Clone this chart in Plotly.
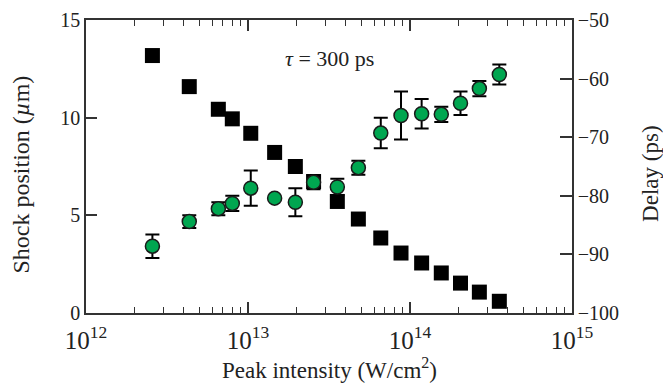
import plotly.graph_objects as go

intensity = [2.57e12, 4.34e12, 6.56e12, 8.0e12, 1.04e13, 1.46e13, 1.96e13, 2.54e13,
             3.56e13, 4.80e13, 6.6e13, 8.8e13, 1.18e14, 1.56e14, 2.05e14, 2.68e14, 3.56e14]
shock_position = [13.18, 11.59, 10.43, 9.94, 9.20, 8.22, 7.50, 6.73, 5.71, 4.81,
                  3.84, 3.07, 2.56, 2.05, 1.53, 1.07, 0.60]
delay = [-88.6, -84.4, -82.2, -81.3, -78.7, -80.4, -81.1, -77.7, -78.5, -75.2,
         -69.3, -66.3, -66.0, -66.1, -64.2, -61.7, -59.3]
delay_err = [2.0, 1.1, 1.1, 1.3, 3.0, 0.0, 2.4, 1.2, 1.4, 1.2,
             2.6, 4.1, 2.5, 1.3, 2.0, 1.3, 1.7]

FONT = "Liberation Serif"
AX = "#333333"
TXT = "#222222"

fig = go.Figure()
fig.add_trace(go.Scatter(
    x=intensity, y=shock_position, mode="markers", yaxis="y",
    marker=dict(symbol="square", size=15, color="black", line=dict(width=0)),
    showlegend=False))
fig.add_trace(go.Scatter(
    x=intensity, y=delay, mode="markers", yaxis="y2",
    marker=dict(symbol="circle", size=14, color="#00a650",
                line=dict(width=1.5, color="#1a1a1a")),
    error_y=dict(type="data", array=delay_err, visible=True, color="black",
                 thickness=2, width=7),
    showlegend=False))

ann = dict(xref="paper", yref="paper", showarrow=False, xanchor="center", yanchor="middle")
fig.add_annotation(x=0.501, y=0.867, text="<i>τ</i> = 300 ps",
                   font=dict(family=FONT, size=22, color=TXT), **ann)
fig.add_annotation(x=0.502, y=-0.19, text="Peak intensity (W/cm<sup>2</sup>)",
                   font=dict(family=FONT, size=23, color=TXT), **ann)
fig.add_annotation(x=-0.133, y=0.474, textangle=-90, text="Shock position (<i>µ</i>m)",
                   font=dict(family=FONT, size=24, color=TXT), **ann)
fig.add_annotation(x=1.160, y=0.474, textangle=-90, text="Delay (ps)",
                   font=dict(family=FONT, size=23, color=TXT), **ann)

fig.update_layout(
    width=663, height=388,
    margin=dict(l=86, r=91, t=20, b=75),
    paper_bgcolor="white", plot_bgcolor="white",
    font=dict(family=FONT, size=20, color=TXT),
    xaxis=dict(type="log", range=[12, 15], dtick=1, exponentformat="power",
               automargin=False, ticklabelstandoff=5,
               showline=True, linecolor=AX, linewidth=1.5, mirror="ticks",
               ticks="inside", ticklen=11, tickwidth=1.5, tickcolor=AX,
               minor=dict(ticks="inside", ticklen=6, tickwidth=1.2, tickcolor=AX, dtick="D1"),
               showgrid=False, zeroline=False),
    yaxis=dict(range=[0, 15], tickvals=[0, 5, 10, 15], automargin=False,
               showline=True, linecolor=AX, linewidth=1.5,
               ticks="inside", ticklen=11, tickwidth=1.5, tickcolor=AX,
               showgrid=False, zeroline=False),
    yaxis2=dict(range=[-100, -50], tickvals=[-100, -90, -80, -70, -60, -50],
                overlaying="y", side="right", automargin=False,
                showline=True, linecolor=AX, linewidth=1.5,
                ticks="inside", ticklen=12, tickwidth=1.5, tickcolor=AX,
                showgrid=False, zeroline=False),
)

fig.write_html("out.html")
